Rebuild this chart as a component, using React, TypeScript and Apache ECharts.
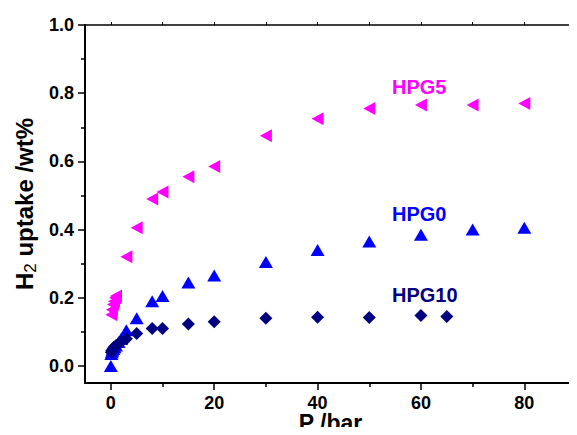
import React, { useEffect, useRef } from "react";
import * as echarts from "echarts";

const hpg5P = [0.1, 0.2, 0.4, 0.6, 0.8, 1.0, 3, 5, 8, 10, 15, 20, 30, 40, 50, 60, 70, 80];
const hpg5V = [0.15, 0.165, 0.18, 0.19, 0.2, 0.205, 0.32, 0.405, 0.49, 0.51, 0.555, 0.585, 0.675, 0.725, 0.755, 0.765, 0.765, 0.77];

const hpg0P = [0, 0.1, 0.2, 0.3, 0.5, 0.7, 1, 1.5, 2, 3, 5, 8, 10, 15, 20, 30, 40, 50, 60, 70, 80];
const hpg0V = [0, 0.035, 0.04, 0.045, 0.05, 0.055, 0.06, 0.07, 0.08, 0.105, 0.14, 0.19, 0.205, 0.245, 0.265, 0.305, 0.34, 0.365, 0.385, 0.4, 0.405];

const hpg10P = [0.1, 0.2, 0.4, 0.6, 1, 1.5, 2, 3, 5, 8, 10, 15, 20, 30, 40, 50, 60, 65];
const hpg10V = [0.04, 0.045, 0.05, 0.055, 0.06, 0.065, 0.07, 0.08, 0.095, 0.11, 0.11, 0.123, 0.13, 0.14, 0.143, 0.142, 0.148, 0.145];

const xMajor = [0, 20, 40, 60, 80];
const xMinor = [10, 30, 50, 70, 90];
const xAll = [0, 10, 20, 30, 40, 50, 60, 70, 80, 90];
const yMajor = [0, 0.2, 0.4, 0.6, 0.8, 1.0];
const yMinor = [0.1, 0.3, 0.5, 0.7, 0.9];
const yAll = [0, 0.1, 0.2, 0.3, 0.4, 0.5, 0.6, 0.7, 0.8, 0.9, 1.0];

const labels = [
  { text: "HPG5", color: "#FF00FF", x: 392, y: 87 },
  { text: "HPG0", color: "#0000FF", x: 392, y: 214 },
  { text: "HPG10", color: "#000080", x: 392, y: 295 },
];

const zip = (a: number[], b: number[]) => a.map((v, i) => [v, b[i]]);

export default function App() {
  const ref = useRef<HTMLDivElement>(null);
  useEffect(() => {
    if (!ref.current) return;
    const chart = echarts.init(ref.current, null, { renderer: "svg" });
    const font = "Liberation Sans, Arial, sans-serif";
    const xmin = -5, xmax = 90, ymin = -0.05, ymax = 1.0;
    const baseX = {
      type: "value" as const,
      min: xmin,
      max: xmax,
      splitLine: { show: false },
    };
    const baseY = {
      type: "value" as const,
      min: ymin,
      max: ymax,
      splitLine: { show: false },
    };
    chart.setOption({
      animation: false,
      grid: { left: 85, right: 1, top: 25, bottom: 52, containLabel: false, outerBoundsMode: "none" },
      xAxis: [
        {
          ...baseX,
          position: "bottom",
          axisLine: { show: true, onZero: false, lineStyle: { color: "#000", width: 2 } },
          axisTick: { show: true, customValues: xMajor, length: 7, lineStyle: { color: "#000", width: 1.5 } },
          axisLabel: {
            customValues: xMajor,
            fontFamily: font,
            fontWeight: "bold",
            fontSize: 18,
            lineHeight: 17,
            color: "#000",
            margin: 11,
          },
          name: "P /bar",
          nameLocation: "middle",
          nameGap: 29,
          nameMoveOverlap: false,
          nameTextStyle: { fontFamily: font, fontWeight: "bold", fontSize: 23, color: "#000", lineHeight: 22 },
        },
        {
          ...baseX,
          position: "bottom",
          axisLine: { show: false, onZero: false },
          axisTick: { show: true, customValues: xMinor, length: 4, lineStyle: { color: "#000", width: 1.5 } },
          axisLabel: { show: false },
        },
        {
          ...baseX,
          position: "top",
          axisLine: { show: true, onZero: false, lineStyle: { color: "#000", width: 1.5 } },
          axisTick: { show: true, customValues: xAll, length: 3, lineStyle: { color: "#000", width: 1 } },
          axisLabel: { show: false },
        },
      ],
      yAxis: [
        {
          ...baseY,
          position: "left",
          axisLine: { show: true, onZero: false, lineStyle: { color: "#000", width: 2 } },
          axisTick: { show: true, customValues: yMajor, length: 7, lineStyle: { color: "#000", width: 1.5 } },
          axisLabel: {
            customValues: yMajor,
            formatter: (v: number) => v.toFixed(1),
            fontFamily: font,
            fontWeight: "bold",
            fontSize: 18,
            color: "#000",
            margin: 11,
          },
          name: "{a|H}{b|2}{a| uptake /wt%}",
          nameLocation: "middle",
          nameGap: 46,
          nameRotate: 90,
          nameMoveOverlap: false,
          nameTextStyle: {
            fontFamily: font,
            fontWeight: "bold",
            fontSize: 24,
            color: "#000",
            rich: {
              a: { fontFamily: font, fontWeight: "bold", fontSize: 24, color: "#000", lineHeight: 30 },
              b: { fontFamily: font, fontWeight: "normal", fontSize: 17, color: "#000", lineHeight: 30, verticalAlign: "bottom", padding: [4, 0, 0, 0] },
            },
          },
        },
        {
          ...baseY,
          position: "left",
          axisLine: { show: false, onZero: false },
          axisTick: { show: true, customValues: yMinor, length: 4, lineStyle: { color: "#000", width: 1.5 } },
          axisLabel: { show: false },
        },
        {
          ...baseY,
          position: "right",
          axisLine: { show: true, onZero: false, lineStyle: { color: "#777", width: 1.5 } },
          axisTick: { show: true, inside: true, customValues: yAll, length: 3, lineStyle: { color: "#555", width: 1 } },
          axisLabel: { show: false },
        },
      ],
      series: [
        {
          type: "scatter",
          name: "HPG5",
          data: zip(hpg5P, hpg5V),
          symbol: "triangle",
          symbolRotate: 90,
          symbolSize: [13, 12],
          itemStyle: { color: "#FF00FF", opacity: 1 },
        },
        {
          type: "scatter",
          name: "HPG0",
          data: zip(hpg0P, hpg0V),
          symbol: "triangle",
          symbolSize: [14, 12],
          itemStyle: { color: "#0000FF", opacity: 1 },
        },
        {
          type: "scatter",
          name: "HPG10",
          data: zip(hpg10P, hpg10V),
          symbol: "diamond",
          symbolSize: [13, 13],
          itemStyle: { color: "#000080", opacity: 1 },
        },
      ],
      graphic: labels.map((l) => ({
        type: "text",
        left: l.x,
        top: l.y - 10,
        style: {
          text: l.text,
          fill: l.color,
          fontFamily: font,
          fontWeight: "bold",
          fontSize: 20,
        },
      })),
    });
    return () => chart.dispose();
  }, []);
  return <div ref={ref} style={{ width: 577, height: 435, margin: -8 }} />;
}
